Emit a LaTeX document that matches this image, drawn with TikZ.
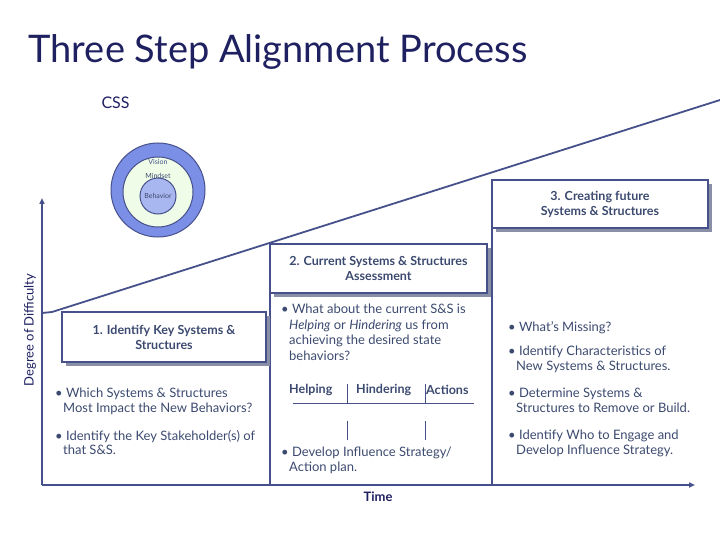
\documentclass[tikz,border=0pt]{standalone}
\usepackage{fontspec}
\setmainfont{Lato}
\usetikzlibrary{arrows.meta}
\definecolor{navy}{HTML}{1E2060}
\definecolor{ln}{HTML}{46508A}
\definecolor{tx}{HTML}{3C4A70}
\definecolor{sh}{HTML}{8A8FA8}
\definecolor{outerc}{HTML}{7B8FE6}
\definecolor{midc}{HTML}{EEFCE8}
\definecolor{innc}{HTML}{A9B7F0}
\begin{document}
\begin{tikzpicture}[x=1pt,y=-1pt,
  hbox/.style={draw=ln,line width=1.5pt,fill=white,text=tx,font=\fontsize{12.5}{15}\selectfont\bfseries,align=center,inner sep=0pt},
  body/.style={text=tx,font=\fontsize{13}{16.5}\selectfont,align=left,anchor=north west,inner sep=0pt},
  hd/.style={text=tx,font=\fontsize{12.5}{14}\selectfont\bfseries,anchor=west,inner sep=0pt}]
\useasboundingbox (0,0) rectangle (720,540);
\node[text=navy,font=\fontsize{38}{42}\selectfont,anchor=west] (title) at (25,52) {Three Step Alignment Process};
\node[text=navy,font=\fontsize{16}{18}\selectfont,anchor=west] (css) at (98,103) {CSS};
% circles
\node[circle,draw=ln,fill=outerc,line width=1pt,minimum size=94pt] (c1) at (158,190) {};
\node[circle,draw=ln,fill=midc,line width=1pt,minimum size=70pt] (c2) at (158,192) {};
\node[circle,draw=ln,fill=innc,line width=1pt,minimum size=36pt] (c3) at (158,196) {};
\node[text=ln,font=\fontsize{7}{8}\selectfont] (v) at (158,162) {Vision};
\node[text=tx,font=\fontsize{7}{8}\selectfont] (m) at (158,176) {Mindset};
\node[text=tx,font=\fontsize{7}{8}\selectfont] (b) at (158,196) {Behavior};
% axes
\coordinate (o) at (42,485);
\coordinate (ytop) at (42,198);
\coordinate (xend) at (695,485);
\draw[ln,line width=1.5pt,-{Triangle[length=6pt,width=5pt]}] (o) -- (ytop);
\draw[ln,line width=2pt,-{Triangle[length=6pt,width=5pt]}] (o) -- (xend);
\node[text=navy,font=\fontsize{13}{15}\selectfont,rotate=90] (dd) at (30,330) {Degree of Difficulty};
\node[text=navy,font=\fontsize{13}{15}\selectfont\bfseries] (time) at (378,497) {Time};
% diagonal
\coordinate (d0) at (42,313);
\coordinate (d1) at (52,312);
\coordinate (d2) at (720,100);
\draw[ln,line width=1.8pt] (d0) -- (d1) -- (d2);
% column lines
\coordinate (c2t) at (270,290);
\coordinate (c2b) at (270,485);
\coordinate (c3t) at (492,225);
\coordinate (c3b) at (492,485);
\draw[ln,line width=1.5pt] (c2t) -- (c2b);
\draw[ln,line width=1.5pt] (c3t) -- (c3b);
% boxes with shadow
\fill[sh] (66,316) rectangle (270,366);
\node[hbox,minimum width=204pt,minimum height=50pt] (b1) at (164,337) {1. Identify Key Systems \&\\Structures};
\fill[sh] (274,248) rectangle (491,297);
\node[hbox,minimum width=217pt,minimum height=49pt] (b2) at (378.5,268.5) {2. Current Systems \& Structures\\Assessment};
\fill[sh] (496,184) rectangle (712,232);
\node[hbox,minimum width=216pt,minimum height=48pt] (b3) at (600,204) {3. Creating future\\Systems \& Structures};
% texts col1
\node[body] (t1) at (55,388) {• Which Systems \& Structures\\[-2pt]\hspace*{8pt}Most Impact the New Behaviors?};
\node[body] (t2) at (55,430) {• Identify the Key Stakeholder(s) of\\[-2pt]\hspace*{8pt}that S\&S.};
% col2
\node[body] (t3) at (281,304) {• What about the current S\&S is\\[-1pt]\hspace*{8pt}\textit{Helping} or \textit{Hindering} us from\\[-1pt]\hspace*{8pt}achieving the desired state\\[-1pt]\hspace*{8pt}behaviors?};
\node[hd] (h1) at (289,390) {Helping};
\node[hd] (h2) at (356,390) {Hindering};
\node[hd] (h3) at (426,390) {Actions};
\coordinate (tl) at (293,403); \coordinate (tr) at (474,403);
\draw[ln,line width=1pt] (tl) -- (tr);
\coordinate (v1a) at (347,384); \coordinate (v1b) at (347,403);
\coordinate (v1c) at (347,421); \coordinate (v1d) at (347,440);
\coordinate (v2a) at (425,384); \coordinate (v2b) at (425,403);
\coordinate (v2c) at (425,421); \coordinate (v2d) at (425,440);
\draw[ln,line width=1pt] (v1a) -- (v1b) (v1c) -- (v1d);
\draw[ln,line width=1pt] (v2a) -- (v2b) (v2c) -- (v2d);
\node[body] (t4) at (281,447) {• Develop Influence Strategy/\\[-2pt]\hspace*{8pt}Action plan.};
% col3
\node[body] (t5) at (508,321) {• What’s Missing?};
\node[body] (t6) at (508,346) {• Identify Characteristics of\\[-2pt]\hspace*{8pt}New Systems \& Structures.};
\node[body] (t7) at (508,388) {• Determine Systems \&\\[-2pt]\hspace*{8pt}Structures to Remove or Build.};
\node[body] (t8) at (508,430) {• Identify Who to Engage and\\[-2pt]\hspace*{8pt}Develop Influence Strategy.};
\end{tikzpicture}
\end{document}
